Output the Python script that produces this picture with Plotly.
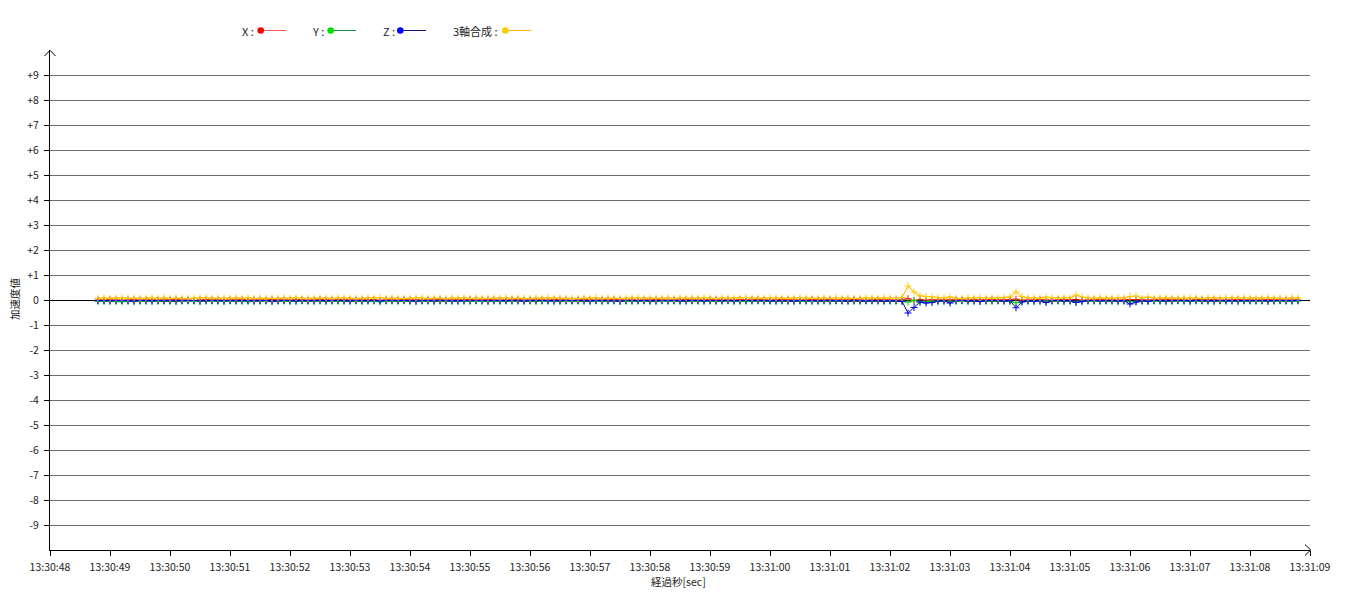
import pandas as pd
import plotly.graph_objects as go

# ---------------- data ----------------
START = "2024-01-01 13:30:48.8"
STEP = "100ms"

x_vals = [
    0.00,-0.01,0.01,0.00,-0.01,0.00,0.01,-0.01,0.00,0.00,
    -0.01,0.00,0.00,0.01,-0.01,0.00,-0.02,0.00,0.01,0.00,
    0.00,-0.01,0.00,0.00,0.01,-0.01,0.00,0.00,-0.01,0.01,
    0.00,0.00,-0.01,0.01,0.00,-0.01,0.00,0.01,0.00,-0.01,
    0.01,0.00,0.00,-0.01,0.00,0.00,0.01,-0.02,0.00,0.00,
    -0.01,0.01,0.00,0.00,-0.01,0.00,0.00,0.01,-0.01,0.00,
    0.00,0.00,0.01,-0.01,0.00,0.01,0.00,-0.01,0.00,0.00,
    0.01,-0.01,0.00,0.00,0.00,-0.01,0.01,0.00,0.00,-0.02,
    0.00,0.01,0.00,-0.01,0.00,0.00,0.01,0.00,-0.01,0.00,
    -0.01,0.00,0.00,0.01,0.00,-0.01,0.00,0.00,0.01,0.00,
    0.00,-0.01,0.01,0.00,0.00,0.00,-0.01,0.01,0.00,0.00,
    0.01,0.00,-0.01,0.00,0.01,0.00,0.00,-0.01,0.00,0.01,
    0.00,0.00,0.01,-0.01,0.00,0.00,0.01,0.00,-0.02,0.00,
    0.01,0.00,0.00,-0.01,0.00,0.05,-0.03,0.02,-0.01,0.01,
    0.00,-0.01,0.01,0.00,0.00,-0.01,0.01,0.00,0.00,0.01,
    -0.01,0.00,0.01,0.03,-0.01,0.00,0.00,0.01,0.00,-0.01,
    0.00,0.01,0.00,0.02,-0.01,0.00,0.00,0.01,0.00,0.00,
    -0.01,0.00,0.02,0.01,0.00,-0.01,0.00,0.00,0.01,0.00,
    0.00,0.00,-0.01,0.01,0.00,0.00,0.01,-0.01,0.00,0.00,
    0.01,0.00,0.00,-0.01,0.00,0.01,0.00,0.00,-0.01,0.00,
    0.00,
]

y_vals = [
    -0.05,-0.06,-0.04,-0.05,-0.07,-0.05,-0.04,-0.06,-0.05,-0.05,
    -0.06,-0.04,-0.05,-0.06,-0.05,-0.03,-0.05,-0.06,-0.04,-0.05,
    -0.05,-0.06,-0.04,-0.05,-0.05,-0.07,-0.05,-0.04,-0.05,-0.06,
    -0.04,-0.05,-0.06,-0.05,-0.04,-0.05,-0.06,-0.05,-0.05,-0.04,
    -0.06,-0.05,-0.04,-0.05,-0.06,-0.05,-0.05,-0.07,-0.04,-0.05,
    -0.05,-0.04,-0.06,-0.05,-0.05,-0.04,-0.06,-0.05,-0.04,-0.05,
    -0.05,-0.06,-0.05,-0.04,-0.05,-0.06,-0.05,-0.05,-0.04,-0.06,
    -0.05,-0.04,-0.05,-0.06,-0.05,-0.04,-0.05,-0.06,-0.05,-0.04,
    -0.06,-0.05,-0.05,-0.04,-0.06,-0.05,-0.04,-0.05,-0.06,-0.05,
    -0.04,-0.05,-0.06,-0.05,-0.04,-0.05,-0.05,-0.06,-0.04,-0.05,
    -0.05,-0.04,-0.05,-0.06,-0.05,-0.04,-0.05,-0.05,-0.06,-0.04,
    -0.05,-0.06,-0.04,-0.05,-0.05,-0.06,-0.04,-0.05,-0.05,-0.06,
    -0.04,-0.05,-0.06,-0.05,-0.04,-0.05,-0.06,-0.05,-0.04,-0.05,
    -0.05,-0.04,-0.06,-0.05,-0.05,-0.08,-0.01,-0.07,-0.06,-0.04,
    -0.05,-0.06,-0.07,-0.05,-0.04,-0.05,-0.06,-0.05,-0.05,-0.06,
    -0.04,-0.05,-0.06,-0.11,-0.06,-0.05,-0.04,-0.06,-0.05,-0.04,
    -0.05,-0.06,-0.05,-0.07,-0.05,-0.04,-0.06,-0.05,-0.04,-0.05,
    -0.06,-0.05,-0.07,-0.06,-0.05,-0.04,-0.05,-0.05,-0.06,-0.05,
    -0.04,-0.05,-0.06,-0.05,-0.04,-0.05,-0.06,-0.05,-0.05,-0.04,
    -0.06,-0.05,-0.04,-0.05,-0.05,-0.06,-0.05,-0.04,-0.05,-0.05,
    -0.05,
]

z_vals = [
    -0.03,-0.02,-0.04,-0.03,-0.02,-0.03,-0.05,-0.02,-0.03,-0.04,
    -0.02,-0.03,-0.03,-0.04,-0.02,-0.03,-0.02,-0.04,-0.03,-0.02,
    -0.03,-0.04,-0.02,-0.03,-0.03,-0.02,-0.04,-0.03,-0.02,-0.05,
    -0.03,-0.02,-0.03,-0.04,-0.02,-0.03,-0.03,-0.02,-0.04,-0.03,
    -0.02,-0.03,-0.04,-0.02,-0.03,-0.03,-0.02,-0.04,-0.03,-0.02,
    -0.03,-0.02,-0.03,-0.05,-0.02,-0.03,-0.04,-0.02,-0.03,-0.03,
    -0.04,-0.02,-0.03,-0.02,-0.03,-0.04,-0.02,-0.03,-0.03,-0.02,
    -0.03,-0.04,-0.02,-0.03,-0.02,-0.03,-0.04,-0.03,-0.02,-0.03,
    -0.02,-0.03,-0.04,-0.02,-0.03,-0.02,-0.03,-0.05,-0.02,-0.03,
    -0.03,-0.02,-0.03,-0.04,-0.02,-0.03,-0.02,-0.03,-0.04,-0.02,
    -0.03,-0.04,-0.02,-0.03,-0.03,-0.02,-0.04,-0.03,-0.02,-0.03,
    -0.02,-0.03,-0.03,-0.04,-0.02,-0.03,-0.05,-0.02,-0.03,-0.03,
    -0.04,-0.02,-0.03,-0.02,-0.03,-0.04,-0.02,-0.03,-0.03,-0.02,
    -0.03,-0.04,-0.02,-0.03,-0.05,-0.52,-0.30,-0.08,-0.12,-0.10,
    -0.04,-0.03,-0.12,-0.03,-0.02,-0.04,-0.03,-0.06,-0.03,-0.02,
    -0.03,-0.04,-0.03,-0.31,-0.08,-0.03,-0.05,-0.03,-0.10,-0.03,
    -0.02,-0.04,-0.03,-0.10,-0.05,-0.03,-0.02,-0.04,-0.03,-0.03,
    -0.04,-0.03,-0.16,-0.08,-0.03,-0.05,-0.02,-0.03,-0.04,-0.03,
    -0.02,-0.03,-0.04,-0.02,-0.03,-0.03,-0.04,-0.02,-0.03,-0.03,
    -0.04,-0.02,-0.03,-0.03,-0.02,-0.04,-0.03,-0.02,-0.03,-0.03,
    -0.02,
]

c_vals = [
    0.07,0.08,0.06,0.07,0.09,0.07,0.08,0.06,0.07,0.08,
    0.07,0.09,0.06,0.08,0.07,0.06,0.08,0.07,0.09,0.07,
    0.08,0.06,0.07,0.08,0.07,0.09,0.06,0.08,0.07,0.06,
    0.07,0.08,0.06,0.09,0.07,0.06,0.08,0.07,0.08,0.06,
    0.09,0.07,0.08,0.06,0.07,0.08,0.07,0.10,0.06,0.08,
    0.07,0.06,0.08,0.07,0.09,0.06,0.08,0.07,0.06,0.08,
    0.07,0.09,0.06,0.08,0.07,0.06,0.08,0.07,0.09,0.06,
    0.08,0.07,0.06,0.08,0.07,0.09,0.07,0.08,0.06,0.07,
    0.06,0.08,0.07,0.09,0.06,0.08,0.07,0.06,0.08,0.07,
    0.09,0.07,0.08,0.06,0.07,0.08,0.06,0.09,0.07,0.08,
    0.07,0.10,0.08,0.06,0.09,0.07,0.08,0.06,0.10,0.07,
    0.08,0.06,0.09,0.07,0.08,0.06,0.07,0.09,0.08,0.06,
    0.07,0.08,0.06,0.09,0.07,0.08,0.06,0.07,0.09,0.08,
    0.07,0.09,0.08,0.06,0.10,0.56,0.32,0.17,0.14,0.12,
    0.09,0.08,0.12,0.07,0.06,0.09,0.08,0.10,0.07,0.08,
    0.07,0.09,0.12,0.32,0.14,0.08,0.09,0.07,0.12,0.08,
    0.07,0.09,0.08,0.20,0.12,0.08,0.07,0.09,0.08,0.07,
    0.09,0.08,0.14,0.16,0.08,0.12,0.07,0.08,0.09,0.07,
    0.08,0.07,0.09,0.08,0.06,0.09,0.08,0.07,0.10,0.08,
    0.07,0.09,0.08,0.06,0.08,0.09,0.07,0.08,0.06,0.09,
    0.08,
]

series_names = ["X", "Y", "Z", "3軸合成"]
legend_labels = ["X :", "Y :", "Z :", "3軸合成 :"]
marker_colors = ["#ff0000", "#00e000", "#0000ff", "#ffcc00"]
line_colors = ["#ff5a46", "#1e8c4a", "#14147a", "#ffb000"]

y_tickvals = [9, 8, 7, 6, 5, 4, 3, 2, 1, 0, -1, -2, -3, -4, -5, -6, -7, -8, -9]
y_ticktext = ["+9", "+8", "+7", "+6", "+5", "+4", "+3", "+2", "+1", "0",
              "-1", "-2", "-3", "-4", "-5", "-6", "-7", "-8", "-9"]
x_range = ["2024-01-01 13:30:48", "2024-01-01 13:31:09"]
x_ticks = pd.date_range("2024-01-01 13:30:48", "2024-01-01 13:31:09", freq="1s")
x_grid = x_ticks[1:-1]
x_ticktext = [t.strftime("%H:%M:%S") for t in x_ticks]

x_title = "経過秒[sec]"
y_title = "加速度値"

# ---------------- figure ----------------
FONT = "Noto Sans CJK JP, Noto Sans, sans-serif"
TXT = "#222222"
GRID = "#6b6b6b"
PAGE_OFF = 8  # default body margin of the html page

times = pd.date_range(START, periods=len(x_vals), freq=STEP)

fig = go.Figure()
for name, vals, mc, lc in zip(series_names, [x_vals, y_vals, z_vals, c_vals], marker_colors, line_colors):
    fig.add_trace(go.Scatter(
        x=times, y=vals, name=name, mode="lines+markers",
        line=dict(color=lc, width=1),
        marker=dict(symbol="cross-thin", size=5, color=mc, line=dict(color=mc, width=1)),
        showlegend=False,
    ))

# plot area in page pixels
L, R, T, B = 50, 1310, 50, 550
W_, H_ = R - L, B - T
FIG_W, FIG_H = 1350 - PAGE_OFF, 610 - PAGE_OFF


def px(x):
    return (x - L) / W_


def py(y):
    return (B - y) / H_


fig.update_layout(
    width=FIG_W, height=FIG_H,
    margin=dict(l=L - PAGE_OFF, r=FIG_W - (R - PAGE_OFF), t=T - PAGE_OFF, b=FIG_H - (B - PAGE_OFF),
                autoexpand=False),
    paper_bgcolor="white", plot_bgcolor="white",
    font=dict(family=FONT, size=10.5, color=TXT),
    showlegend=False,
    xaxis=dict(
        type="date", range=x_range, tickvals=x_ticks, ticktext=x_ticktext,
        ticks="outside", ticklen=5, tickcolor="black", tickwidth=1,
        showgrid=False, zeroline=False,
        showline=True, linecolor="black", linewidth=1,
        tickfont=dict(family=FONT, size=10.5, color=TXT),
        ticklabelstandoff=2,
    ),
    xaxis2=dict(
        type="date", range=x_range, overlaying="x", anchor="y", side="bottom",
        tickvals=x_grid, showticklabels=False,
        ticks="inside", ticklen=5, tickcolor="black", tickwidth=1,
        showgrid=True, gridcolor=GRID, gridwidth=1,
        zeroline=False, showline=False,
    ),
    yaxis=dict(
        range=[-10, 10], tickvals=y_tickvals, ticktext=y_ticktext,
        ticks="outside", ticklen=5, tickcolor="black", tickwidth=1,
        showgrid=True, gridcolor=GRID, gridwidth=1,
        zeroline=True, zerolinecolor="black", zerolinewidth=1,
        showline=True, linecolor="black", linewidth=1,
        tickfont=dict(family=FONT, size=10.5, color=TXT),
        ticklabelstandoff=3,
    ),
    yaxis2=dict(
        range=[-10, 10], overlaying="y", anchor="x", side="left",
        tickvals=y_tickvals, showticklabels=False,
        ticks="inside", ticklen=6, tickcolor="black", tickwidth=1,
        showgrid=False, zeroline=False, showline=False,
    ),
)

shapes = []
annotations = []

# axis arrowheads
shapes.append(dict(type="path", xref="paper", yref="paper",
                   path=f"M {px(44.5)} {py(56)} L {px(50)} {py(50.3)} L {px(55.5)} {py(56)}",
                   line=dict(color="black", width=1)))
shapes.append(dict(type="path", xref="paper", yref="paper",
                   path=f"M {px(1305)} {py(544.5)} L {px(1310.7)} {py(550)} L {px(1305)} {py(555.5)}",
                   line=dict(color="black", width=1)))

# axis titles
annotations.append(dict(text=x_title, xref="paper", yref="paper", x=px(678), y=py(581),
                        xanchor="center", yanchor="middle", showarrow=False,
                        font=dict(family=FONT, size=10.5, color=TXT)))
annotations.append(dict(text=y_title, xref="paper", yref="paper", x=px(14), y=py(299),
                        xanchor="center", yanchor="middle", showarrow=False, textangle=-90,
                        font=dict(family=FONT, size=10.5, color=TXT)))

# custom legend (text first, then marker + line)
leg_text_x = [240, 310, 380.5, 450.5]
leg_dot_x = [260.7, 330.7, 400.3, 505.3]
leg_line_end = [286, 356, 426, 531]
leg_y = 30.5
for lab, tx, dx, le, mc, lc in zip(legend_labels, leg_text_x, leg_dot_x, leg_line_end, marker_colors, line_colors):
    annotations.append(dict(text=lab, xref="paper", yref="paper", x=px(tx), y=py(leg_y),
                            xanchor="left", yanchor="middle", showarrow=False,
                            font=dict(family=FONT, size=11, color=TXT)))
    shapes.append(dict(type="line", xref="paper", yref="paper",
                       x0=px(dx), x1=px(le), y0=py(leg_y), y1=py(leg_y),
                       line=dict(color=lc, width=1)))
    shapes.append(dict(type="circle", xref="paper", yref="paper",
                       xsizemode="pixel", ysizemode="pixel",
                       xanchor=px(dx), yanchor=py(leg_y),
                       x0=-3.3, x1=3.3, y0=-3.3, y1=3.3,
                       fillcolor=mc, line=dict(color=mc, width=0)))

fig.update_layout(shapes=shapes, annotations=annotations)

fig.write_html("out.html")
